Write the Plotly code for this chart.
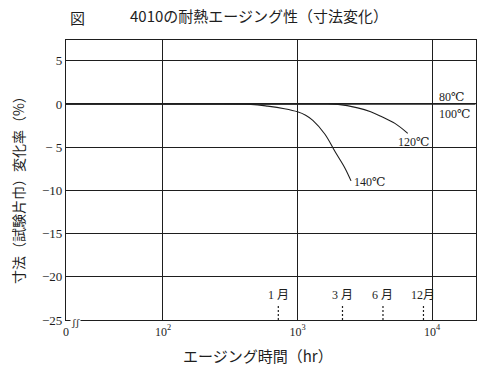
import math
import plotly.graph_objects as go

# ---- data ----
hours_80 = [19, 21000]
dim_80 = [0, 0]
hours_100 = [19, 21000]
dim_100 = [0, 0]
hours_120 = [19, 1500, 2000, 2800, 3500, 4200, 5300, 6600]
dim_120 = [0, 0, -0.05, -0.45, -0.9, -1.45, -2.25, -3.4]
hours_140 = [19, 200, 450, 600, 800, 1000, 1150, 1300, 1600, 1900, 2250, 2500]
dim_140 = [0, 0, -0.05, -0.25, -0.55, -0.9, -1.3, -1.9, -3.5, -5.5, -7.4, -8.9]

month_labels = ["1 月", "3 月", "6 月", "12月"]
month_hours = [720, 2160, 4320, 8640]

y_tickvals = [5, 0, -5, -10, -15, -20, -25]
y_ticktext = ["5", "0", "− 5", "−10", "−15", "−20", "−25"]
x_tickvals = [19, 100, 1000, 10000]
x_ticktext = ["0", "10<sup>2</sup>", "10<sup>3</sup>", "10<sup>4</sup>"]

curve_labels = ["80℃", "100℃", "120℃", "140℃"]
label_hours = [10900, 10900, 7300, 3430]
label_dims = [0.75, -1.2, -4.4, -9.0]
label_anchor = ["left", "left", "center", "center"]

INK = "#1e1e1e"
SERIF = "Liberation Serif, DejaVu Serif, Noto Sans CJK JP, serif"
JP = "Noto Sans CJK JP, sans-serif"

fig = go.Figure()
line = dict(color=INK, width=1.1, shape="spline", smoothing=1.0)
for h, d in [(hours_80, dim_80), (hours_100, dim_100), (hours_120, dim_120), (hours_140, dim_140)]:
    fig.add_trace(go.Scatter(x=h, y=d, mode="lines", line=line, showlegend=False, hoverinfo="skip"))

# month markers (dashed short verticals)
for mh in month_hours:
    fig.add_trace(go.Scatter(x=[mh, mh], y=[-25, -23.2], mode="lines",
                             line=dict(color=INK, width=1.2, dash="2px,2px"),
                             showlegend=False, hoverinfo="skip"))
for lab, mh in zip(month_labels, month_hours):
    fig.add_annotation(x=math.log10(mh), y=-22.1, text=lab, showarrow=False,
                       xanchor="center", yanchor="middle",
                       font=dict(family=SERIF, size=12, color=INK))

for lab, h, d, a in zip(curve_labels, label_hours, label_dims, label_anchor):
    fig.add_annotation(x=math.log10(h), y=d, text=lab, showarrow=False,
                       xanchor=a, yanchor="middle",
                       font=dict(family=SERIF, size=12, color=INK))

# titles
fig.add_annotation(xref="paper", yref="paper", x=0.029, y=1.082, text="図",
                   xanchor="center", yanchor="middle",
                   showarrow=False, font=dict(family=JP, size=15, color=INK))
fig.add_annotation(xref="paper", yref="paper", x=0.468, y=-0.125,
                   xanchor="center", yanchor="middle",
                   text="エージング時間（hr）", showarrow=False,
                   font=dict(family=JP, size=15, color=INK))
fig.add_annotation(xref="paper", yref="paper", x=-0.117, y=0.475,
                   xanchor="center", yanchor="middle",
                   text="寸法（試験片巾）変化率（%）", textangle=-90, showarrow=False,
                   font=dict(family=JP, size=14, color=INK))
# axis break mark
fig.add_annotation(xref="paper", yref="paper", x=0.022, y=0.0, text="ʃʃ",
                   xanchor="center", yanchor="middle", yshift=-2,
                   showarrow=False, bgcolor="white", borderpad=0,
                   font=dict(family=SERIF, size=11, color=INK))

fig.update_layout(
    width=500, height=373,
    margin=dict(l=66, r=24, t=40, b=53),
    paper_bgcolor="white", plot_bgcolor="white",
    title=dict(text="4010の耐熱エージング性（寸法変化）", x=259 / 500, xanchor="center",
               y=1 - 17 / 373, yanchor="middle", xref="container", yref="container",
               font=dict(family=JP, size=15, color=INK)),
    xaxis=dict(type="log", range=[1.279, 4.327], tickvals=x_tickvals, ticktext=x_ticktext,
               showgrid=True, gridcolor=INK, gridwidth=1, showline=True, linecolor=INK,
               linewidth=1.2, mirror=True, ticks="", zeroline=False,
               tickfont=dict(family=SERIF, size=12, color=INK)),
    yaxis=dict(range=[-25, 7.4], tickvals=y_tickvals, ticktext=y_ticktext,
               showgrid=True, gridcolor=INK, gridwidth=1, showline=True, linecolor=INK,
               linewidth=1.2, mirror=True, ticks="", zeroline=False,
               tickfont=dict(family=SERIF, size=13, color=INK)),
)

fig.write_html("out.html", config={"displayModeBar": False},
               post_script="document.body.style.margin='0';")
